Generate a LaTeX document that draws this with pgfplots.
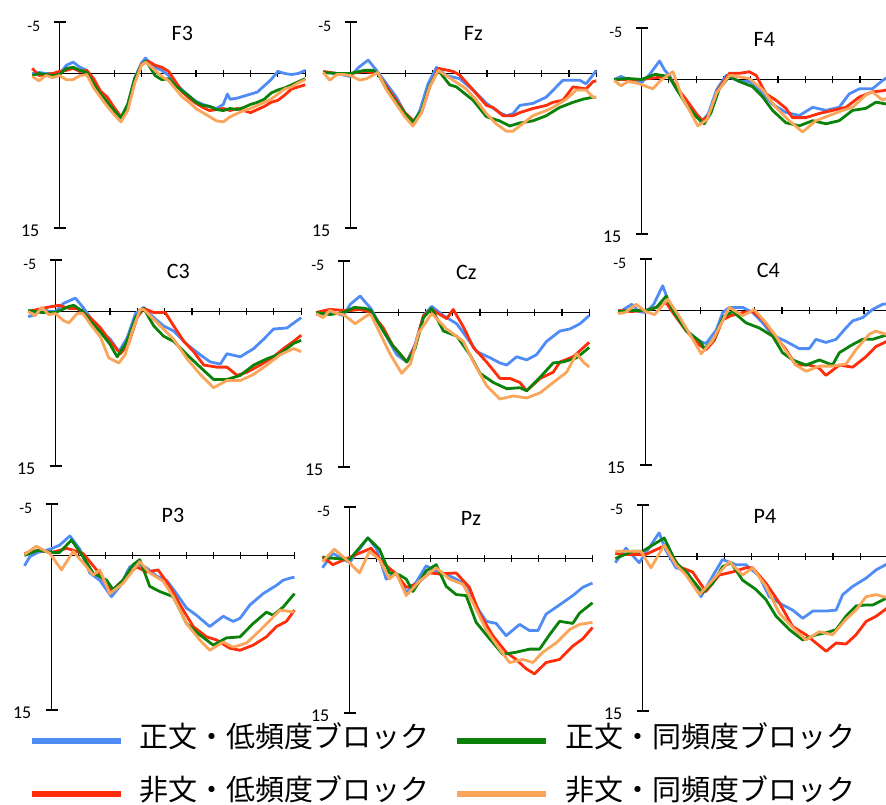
\documentclass[border=0pt]{standalone}
\usepackage{pgfplots}
\pgfplotsset{compat=1.18}
\usepackage{fontspec}
\setmainfont{Carlito}
\newfontfamily\cjk{Noto Sans CJK JP}
\definecolor{eblue}{RGB}{80,140,245}
\definecolor{ered}{RGB}{255,45,10}
\definecolor{egreen}{RGB}{10,130,10}
\definecolor{eorange}{RGB}{250,165,90}
\pgfplotsset{
  erp/.style={scale only axis, width=273pt, height=206pt, xmin=-100, xmax=900,
    ymin=-5, ymax=15, y dir=reverse, axis lines=none, clip=false, anchor=origin},
  sb/.style={color=eblue, line width=2.8pt, line join=round},
  sr/.style={color=ered, line width=2.8pt, line join=round},
  sg/.style={color=egreen, line width=2.8pt, line join=round},
  so/.style={color=eorange, line width=2.8pt, line join=round},
}
\newcommand{\erpaxes}[1]{%
  \draw[line width=1.2pt] (axis cs:0,-5) -- (axis cs:0,15);
  \draw[line width=1.2pt] (axis cs:0,0) -- (axis cs:900,0);
  \draw[line width=1.2pt] ([xshift=-6pt]axis cs:0,-5) -- ([xshift=6pt]axis cs:0,-5);
  \draw[line width=1.2pt] ([xshift=-6pt]axis cs:0,15) -- ([xshift=6pt]axis cs:0,15);
  \pgfplotsinvokeforeach{100,200,...,900}{\draw[line width=1.2pt] ([yshift=-3.3pt]axis cs:##1,0) -- ([yshift=3.3pt]axis cs:##1,0);}
  \node[anchor=east, xshift=-19pt, yshift=-4.5pt, inner sep=0pt, font=\fontsize{16}{16}\selectfont] at (axis cs:0,-5) {-5};
  \node[anchor=east, xshift=-20pt, yshift=-2.5pt, inner sep=0pt, font=\fontsize{18}{18}\selectfont] at (axis cs:0,15) {15};
  \node[inner sep=0pt, font=\fontsize{22}{22}\selectfont] at (axis cs:450,-3.9) {#1};
}
\begin{document}
\begin{tikzpicture}
\path[use as bounding box] (0,0) rectangle (886pt,805pt);

% ---------------- F3
\begin{axis}[erp, at={(59.5pt,731.5pt)}]
\erpaxes{F3}
\addplot[sb] coordinates {(-100,0) (-75,-0.1) (-50,0) (-25,0) (0,0.1) (25,-0.8) (50,-1.1) (75,-0.6) (100,-0.3) (125,0.8) (150,1.8) (175,2.6) (200,3.6) (225,4.3) (250,3.0) (275,0.5) (300,-1.0) (315,-1.5) (325,-1.2) (350,-0.6) (375,-0.3) (400,0.2) (425,0.9) (450,1.6) (475,2.2) (500,2.7) (525,3.0) (550,3.2) (575,3.4) (600,3.0) (615,2.0) (625,2.5) (650,2.4) (675,2.2) (700,2.0) (725,1.8) (750,1.2) (775,0.6) (800,-0.2) (825,0.0) (850,0.1) (875,0.0) (900,-0.3)};
\addplot[sr] coordinates {(-100,-0.5) (-75,0.2) (-50,0.1) (-25,0.0) (0,-0.2) (25,-0.3) (50,-0.5) (75,-0.2) (100,-0.3) (125,0.5) (150,1.7) (175,2.3) (200,3.3) (225,4.2) (250,3.4) (275,0.8) (300,-0.9) (325,-1.2) (350,-0.8) (375,-0.6) (400,-0.2) (425,0.8) (450,1.8) (475,2.4) (500,2.9) (525,3.3) (550,3.6) (575,3.5) (600,3.4) (625,3.6) (650,3.4) (675,3.6) (700,3.8) (725,3.5) (750,3.2) (775,2.8) (800,2.6) (825,2.1) (850,1.5) (875,1.3) (900,1.1)};
\addplot[sg] coordinates {(-100,0.2) (-75,0.0) (-50,0.1) (-25,0.2) (0,0.1) (25,-0.5) (50,-0.6) (75,-0.3) (100,-0.1) (125,1.0) (150,2.0) (175,2.8) (200,3.6) (225,4.3) (250,3.0) (275,0.5) (300,-0.8) (315,-1.2) (325,-0.9) (350,0.2) (375,0.6) (400,0.5) (425,1.2) (450,1.7) (475,2.2) (500,2.8) (525,3.1) (550,3.2) (575,3.5) (600,3.6) (625,3.4) (650,3.5) (675,3.3) (700,3.0) (725,2.8) (750,2.5) (775,1.9) (800,1.6) (825,1.4) (850,1.1) (875,0.8) (900,0.5)};
\addplot[so] coordinates {(-100,0.3) (-75,0.7) (-50,0.2) (-25,0.4) (0,0.2) (25,0.6) (50,0.6) (75,0.2) (100,0.1) (125,1.4) (150,2.3) (175,3.2) (200,4.0) (225,4.7) (250,3.6) (275,1.0) (300,-0.8) (315,-1.1) (325,-0.9) (350,-0.3) (375,0.3) (400,0.7) (425,1.5) (450,2.3) (475,2.8) (500,3.4) (525,3.8) (550,4.2) (575,4.6) (600,4.7) (625,4.2) (650,3.9) (675,3.6) (700,3.4) (725,3.1) (750,2.8) (775,2.5) (800,2.0) (825,1.5) (850,1.3) (875,0.9) (900,0.6)};
\end{axis}

% ---------------- Fz
\begin{axis}[erp, at={(350.5pt,731.5pt)}]
\erpaxes{Fz}
\addplot[sb] coordinates {(-100,-0.15) (-50,0) (0,0.3) (30,-0.6) (65,-1.3) (100,-0.15) (132,1.0) (168,2.3) (199,3.8) (229,4.9) (254,3.6) (284,1.0) (315,-0.6) (351,0.2) (400,0.5) (449,1.6) (498,2.9) (546,3.8) (571,4.1) (595,3.9) (620,3.1) (668,2.9) (717,2.3) (754,1.3) (778,0.65) (839,0.65) (863,1.0) (888,0.15) (900,-0.3)};
\addplot[sr] coordinates {(-100,-0.2) (-50,0) (0,0) (50,-0.2) (100,0) (132,1.3) (168,2.6) (199,3.8) (235,4.7) (260,3.8) (290,1.3) (322,-0.5) (376,-0.2) (400,0.15) (449,1.6) (498,3.1) (522,3.3) (559,4.1) (595,4.1) (620,3.8) (668,3.4) (717,3.1) (741,2.8) (778,2.6) (815,1.3) (863,1.5) (888,0.8) (900,0.7)};
\addplot[sg] coordinates {(-100,-0.1) (-50,0) (0,0) (50,-0.3) (83,-0.3) (100,0) (132,1.5) (168,2.8) (199,3.9) (229,4.7) (260,3.6) (290,1.2) (322,-0.3) (363,1.1) (388,1.3) (449,2.6) (498,4.2) (546,4.6) (583,5.1) (620,4.8) (668,4.6) (717,4.1) (766,3.3) (815,2.8) (851,2.5) (888,2.3) (900,2.3)};
\addplot[so] coordinates {(-100,-0.1) (-76,0.65) (-50,0.1) (-25,0.1) (0,0.2) (34,0.65) (59,0.5) (80,0.2) (100,-0.1) (132,1.6) (168,3.0) (199,4.2) (229,5.1) (260,3.8) (290,1.3) (322,-0.3) (376,0.65) (424,1.5) (461,2.6) (498,3.9) (534,4.9) (571,5.6) (595,5.6) (620,5.1) (668,4.1) (717,3.6) (741,3.3) (790,2.5) (827,1.6) (863,1.6) (888,2.3) (900,2.3)};
\end{axis}

% ---------------- F4
\begin{axis}[erp, at={(641.5pt,725.5pt)}]
\erpaxes{F4}
\addplot[sb] coordinates {(-100,0) (-75,-0.3) (-50,0) (-25,0.3) (0,0.3) (30,-0.5) (66,-1.8) (85,-0.9) (102,-0.4) (130,1.0) (170,2.3) (200,3.3) (218,4.2) (245,3.3) (275,1.0) (310,-0.4) (359,0.2) (395,0.2) (432,1.0) (480,2.4) (529,3.2) (578,3.5) (627,2.7) (676,3.0) (724,2.7) (761,1.4) (798,0.9) (846,0.9) (883,0.1) (900,-0.2)};
\addplot[sr] coordinates {(-100,0) (-50,0) (0,0) (60,-0.2) (100,-0.3) (130,0.8) (165,2.0) (200,3.3) (224,4.0) (250,3.4) (280,1.0) (322,-0.6) (359,-0.6) (395,-0.75) (420,-0.4) (456,1.4) (492,2.0) (529,2.8) (553,3.7) (602,3.7) (651,3.3) (700,3.0) (749,2.7) (798,1.7) (846,1.2) (883,1.1) (900,1.0)};
\addplot[sg] coordinates {(-100,0) (-50,-0.1) (0,0) (50,-0.5) (100,-0.3) (130,1.0) (165,2.5) (200,3.6) (230,4.3) (255,3.2) (285,0.9) (322,-0.3) (359,0.2) (407,0.7) (444,1.7) (480,3.0) (529,4.2) (578,4.5) (627,4.0) (676,4.3) (724,4.0) (773,3.0) (822,2.8) (859,2.2) (900,2.4)};
\addplot[so] coordinates {(-100,0.1) (-75,0.6) (-50,0.2) (-25,0.3) (0,0.5) (41,0.9) (70,0.1) (115,-0.75) (150,1.8) (180,3.2) (206,4.5) (240,3.9) (275,1.3) (322,-0.4) (395,-0.1) (444,1.0) (492,2.7) (541,4.0) (590,5.1) (639,4.0) (688,3.5) (737,3.0) (773,2.7) (822,1.5) (846,1.2) (883,2.0) (900,1.8)};
\end{axis}

% ---------------- C3
\begin{axis}[erp, at={(55.5pt,493.5pt)}]
\erpaxes{C3}
\addplot[sb] coordinates {(-100,0.5) (-75,0.3) (-50,-0.3) (-25,0) (0,0) (30,-0.8) (73,-1.3) (104,-0.3) (128,0.6) (165,1.9) (201,2.7) (232,3.9) (262,2.6) (293,0.2) (323,-0.4) (360,0.6) (396,1.4) (433,1.9) (482,3.2) (530,4.2) (567,4.9) (604,5.1) (628,4.1) (677,4.4) (726,3.6) (762,2.7) (799,1.7) (848,1.6) (884,0.9) (900,0.6)};
\addplot[sr] coordinates {(-100,0) (-30,-0.4) (12,-0.6) (50,-0.3) (79,-0.3) (128,0.6) (165,1.6) (201,2.9) (238,4.1) (268,3.1) (299,0.6) (323,-0.3) (360,0.1) (402,0.1) (433,1.4) (470,2.9) (506,3.9) (543,5.2) (591,5.4) (628,5.4) (665,6.2) (701,5.9) (750,5.2) (799,4.4) (835,3.6) (872,2.9) (900,2.3)};
\addplot[sg] coordinates {(-100,-0.1) (-50,0.1) (0,0.1) (50,-0.5) (67,-0.6) (100,0) (130,1.0) (165,2.0) (200,3.2) (226,4.4) (260,3.0) (295,0.5) (323,-0.3) (360,1.4) (396,2.4) (433,2.9) (482,4.2) (530,5.4) (579,6.6) (628,6.6) (677,6.2) (726,5.2) (774,4.6) (823,4.1) (872,3.1) (900,2.8)};
\addplot[so] coordinates {(-100,0) (-75,0.4) (-50,-0.4) (-25,0.3) (0,0.2) (30,0.9) (49,1.1) (79,0.2) (100,0.2) (130,1.3) (165,2.5) (195,4.5) (232,5.0) (255,4.2) (280,2.0) (310,-0.2) (323,-0.2) (384,1.4) (433,2.7) (482,4.6) (530,6.1) (579,7.4) (628,6.7) (677,6.7) (726,6.1) (774,5.2) (823,4.2) (872,3.6) (900,3.9)};
\end{axis}

% ---------------- Cz
\begin{axis}[erp, at={(343.5pt,492.5pt)}]
\erpaxes{Cz}
\addplot[sb] coordinates {(-100,0.2) (-50,-0.1) (-25,0.1) (0,0.3) (25,-0.8) (61,-1.6) (80,-1.0) (100,-0.4) (146,1.8) (195,4.1) (232,4.8) (262,3.1) (293,0.3) (323,-0.6) (366,0.3) (415,1.1) (451,2.4) (488,3.8) (537,4.4) (573,4.9) (598,5.1) (634,4.3) (671,4.6) (707,4.1) (744,2.8) (793,1.8) (829,1.6) (866,1.1) (900,0.3)};
\addplot[sr] coordinates {(-100,0) (-50,-0.3) (0,-0.2) (30,-0.2) (60,-0.3) (100,0) (146,1.5) (180,3.2) (232,4.8) (262,3.3) (293,0.3) (323,-0.3) (378,0.6) (402,-0.3) (439,1.4) (476,3.4) (524,4.8) (573,6.4) (610,6.4) (646,6.8) (671,7.6) (720,6.4) (768,5.8) (793,4.8) (841,4.3) (900,2.9)};
\addplot[sg] coordinates {(-100,0) (-50,0.2) (0,0) (40,-0.5) (80,-0.4) (100,-0.2) (146,1.8) (180,3.2) (232,4.8) (262,3.5) (293,0.5) (323,-0.4) (366,1.8) (415,2.3) (463,4.1) (500,5.9) (549,6.8) (598,7.4) (646,7.3) (671,7.6) (720,6.3) (768,4.9) (805,4.8) (854,4.4) (900,3.4)};
\addplot[so] coordinates {(-100,0.1) (-75,0.5) (-50,-0.2) (-25,0.1) (0,0.2) (43,1.1) (85,0.3) (100,0.2) (130,1.8) (170,4.0) (213,5.9) (245,5.0) (275,2.0) (323,0.1) (378,1.6) (439,2.8) (476,4.8) (524,7.1) (573,8.4) (622,8.1) (671,8.3) (720,7.8) (768,6.8) (817,5.8) (854,4.0) (878,4.8) (900,5.3)};
\end{axis}

% ---------------- C4
\begin{axis}[erp, at={(645.5pt,494.5pt)}]
\erpaxes{C4}
\addplot[sb] coordinates {(-100,0.3) (-75,-0.2) (-50,-0.6) (-25,0.1) (0,0.2) (30,-0.6) (63,-2.4) (88,-0.6) (112,0.6) (149,1.9) (198,3.0) (222,3.2) (259,1.9) (283,0.2) (307,-0.3) (356,-0.3) (393,0.2) (429,1.2) (466,2.4) (515,3.0) (563,3.7) (600,3.7) (624,2.8) (661,3.1) (698,2.8) (734,1.7) (759,1.0) (795,0.7) (832,-0.1) (868,-0.6) (900,-0.7)};
\addplot[sr] coordinates {(-100,0) (-50,0.1) (0,0) (30,-0.2) (76,-0.75) (100,0.2) (150,2.0) (200,3.4) (222,3.8) (252,2.9) (283,0.9) (313,0.5) (356,0.2) (393,0.1) (429,0.9) (466,2.2) (515,3.8) (551,5.3) (600,5.3) (636,5.6) (661,6.3) (710,5.3) (759,5.5) (807,4.5) (844,3.5) (900,2.8)};
\addplot[sg] coordinates {(-100,0.1) (-50,0) (0,0) (40,-0.3) (76,-1.4) (100,0) (150,2.0) (200,3.0) (216,3.7) (250,2.8) (285,0.6) (320,0.1) (368,1.2) (417,1.7) (466,2.5) (502,4.1) (539,4.8) (588,5.3) (637,4.8) (685,5.3) (710,4.1) (759,3.3) (795,2.8) (832,2.8) (880,2.4) (900,2.6)};
\addplot[so] coordinates {(-100,0.3) (-75,0.2) (-34,-0.6) (0,0.1) (33,0.4) (82,-1.1) (124,0.6) (160,2.2) (204,4.2) (246,2.9) (307,-0.3) (356,0.5) (398,-0.1) (441,1.2) (478,2.5) (527,4.4) (551,5.3) (588,5.9) (637,5.4) (685,5.4) (734,5.2) (771,3.8) (820,2.3) (844,2.0) (880,2.3) (900,2.4)};
\end{axis}

% ---------------- P3
\begin{axis}[erp, width=270pt, at={(51.5pt,249.5pt)}]
\erpaxes{P3}
\addplot[sb] coordinates {(-100,1.0) (-80,0.1) (-50,-0.3) (-6,-0.6) (30,-1.0) (68,-1.9) (105,-0.6) (142,1.7) (179,2.4) (222,4.0) (253,3.0) (290,1.1) (327,0.9) (352,1.2) (389,2.0) (426,2.4) (463,3.7) (500,5.1) (537,5.8) (586,6.9) (636,5.9) (673,6.4) (698,6.1) (735,4.8) (784,3.7) (833,2.9) (858,2.4) (883,2.2) (900,2.1)};
\addplot[sr] coordinates {(-100,-0.2) (-50,-0.5) (0,-0.3) (30,-0.5) (56,-0.7) (117,-0.2) (167,1.4) (222,3.5) (265,2.4) (315,1.1) (352,1.6) (395,1.4) (438,3.0) (481,5.0) (525,6.9) (574,7.9) (611,8.2) (660,9.0) (698,9.2) (747,8.7) (796,7.9) (833,6.9) (870,6.4) (900,5.3)};
\addplot[sg] coordinates {(-100,0) (-50,-0.5) (0,-0.3) (30,-0.3) (74,-1.5) (117,0.1) (154,1.7) (204,2.4) (228,3.3) (265,2.4) (302,0.9) (327,0.4) (364,3.0) (401,3.5) (451,4.0) (500,6.6) (549,7.7) (599,8.7) (648,8.0) (698,7.9) (747,6.6) (796,5.5) (821,5.8) (858,5.0) (900,3.7)};
\addplot[so] coordinates {(-100,-0.1) (-56,-0.9) (-6,-0.2) (37,1.4) (80,-0.4) (117,0.7) (154,1.9) (179,1.4) (216,3.7) (265,2.7) (327,0.6) (364,1.7) (414,2.5) (451,4.0) (500,6.6) (549,8.2) (586,9.2) (636,8.4) (673,8.9) (722,8.5) (759,7.6) (809,6.3) (846,5.3) (900,5.5)};
\end{axis}

% ---------------- Pz
\begin{axis}[erp, width=270pt, at={(349.5pt,246.5pt)}]
\erpaxes{Pz}
\addplot[sb] coordinates {(-100,0.9) (-62,-0.5) (0,0.4) (68,-2.0) (99,-1.0) (136,2.0) (173,1.4) (210,3.3) (247,2.3) (284,0.7) (309,1.1) (346,1.4) (395,2.0) (438,2.7) (469,4.6) (506,6.1) (543,6.3) (580,7.5) (630,6.4) (667,7.0) (698,7.0) (728,5.4) (778,4.5) (827,3.6) (864,2.8) (889,2.5) (900,2.4)};
\addplot[sr] coordinates {(-100,-0.2) (-62,0.6) (0,-0.1) (80,-1.0) (123,0.4) (173,1.5) (210,2.8) (247,2.5) (296,1.4) (333,1.5) (395,1.4) (444,2.8) (481,5.3) (531,7.5) (580,9.1) (617,9.8) (654,10.7) (685,11.2) (728,10.1) (778,9.8) (827,8.5) (864,7.8) (900,6.7)};
\addplot[sg] coordinates {(-100,-0.1) (-50,0) (0,0.1) (68,-2.0) (111,-0.9) (148,1.4) (185,1.6) (210,2.0) (235,3.2) (284,1.2) (321,0.6) (358,2.7) (395,3.5) (432,3.6) (469,6.2) (519,7.8) (568,9.3) (617,9.1) (667,8.8) (704,8.8) (741,7.4) (778,6.1) (827,6.3) (852,5.3) (900,4.3)};
\addplot[so] coordinates {(-100,0.3) (-56,-0.9) (-12,0.1) (37,1.4) (74,-0.7) (111,0.1) (148,2.0) (173,1.4) (210,3.6) (259,2.2) (321,0.9) (370,2.0) (420,2.5) (457,4.3) (506,6.9) (556,8.8) (593,10.1) (642,9.8) (679,10.1) (716,9.1) (765,8.2) (815,6.9) (852,6.4) (900,6.2)};
\end{axis}

% ---------------- P4
\begin{axis}[erp, width=272pt, at={(642.5pt,248.5pt)}]
\erpaxes{P4}
\addplot[sb] coordinates {(-100,0.6) (-61,-0.8) (-12,0.6) (61,-2.3) (86,-0.6) (123,1.1) (160,1.3) (215,3.9) (258,1.9) (294,0.3) (344,0.8) (380,0.8) (429,1.9) (466,3.9) (515,4.7) (552,5.2) (589,6.0) (626,5.3) (675,5.3) (712,5.2) (736,3.7) (773,2.9) (822,2.1) (859,1.3) (894,0.8) (900,0.7)};
\addplot[sr] coordinates {(-100,-0.3) (-74,-0.2) (12,-0.2) (86,-1.1) (135,1.0) (184,1.5) (233,3.4) (282,1.8) (331,1.5) (380,1.1) (405,1.1) (454,2.6) (503,4.5) (552,6.8) (601,7.6) (638,8.4) (675,9.2) (712,8.4) (748,8.5) (785,7.6) (822,6.3) (859,5.8) (900,5.0)};
\addplot[sg] coordinates {(-100,0.2) (-37,-0.5) (0,-0.5) (80,-1.8) (123,0.6) (160,1.5) (221,3.5) (258,2.6) (294,1.0) (325,0.6) (368,2.3) (417,3.2) (454,4.2) (491,5.8) (540,7.1) (589,8.1) (638,7.6) (675,7.4) (712,7.1) (748,5.8) (785,4.8) (822,4.7) (847,4.7) (900,4.0)};
\addplot[so] coordinates {(-100,-0.5) (-49,-0.5) (-6,-0.5) (31,1.1) (80,-1.1) (123,0.8) (160,1.8) (209,3.7) (258,2.3) (319,0.5) (368,1.8) (405,1.1) (454,2.9) (503,5.5) (552,6.9) (601,8.1) (650,7.3) (699,7.6) (748,6.1) (785,5.2) (822,3.9) (859,3.7) (900,4.0)};
\end{axis}

% ---------------- legend
\begin{axis}[hide axis, scale only axis, width=10pt, height=10pt, xmin=0, xmax=1, ymin=0, ymax=1,
  at={(29pt,77pt)}, anchor=north west,
  legend columns=2, transpose legend, legend cell align=left,
  legend image code/.code={\draw[#1, line width=5.5pt] (0pt,-1pt) -- (89pt,-1pt);},
  legend style={at={(0,1)}, anchor=north west, draw=none, fill=none, inner sep=0pt,
    font=\cjk\fontsize{29}{30}\selectfont, row sep=29pt,
    nodes={inner sep=0pt, text height=19pt, text depth=5pt},
    /tikz/every odd column/.append style={column sep=16pt},
    /tikz/every even column/.append style={column sep=25pt}}]
\addlegendimage{sb}\addlegendentry{正文・低頻度ブロック}
\addlegendimage{sr}\addlegendentry{非文・低頻度ブロック}
\addlegendimage{sg}\addlegendentry{正文・同頻度ブロック}
\addlegendimage{so}\addlegendentry{非文・同頻度ブロック}
\end{axis}
\end{tikzpicture}
\end{document}
